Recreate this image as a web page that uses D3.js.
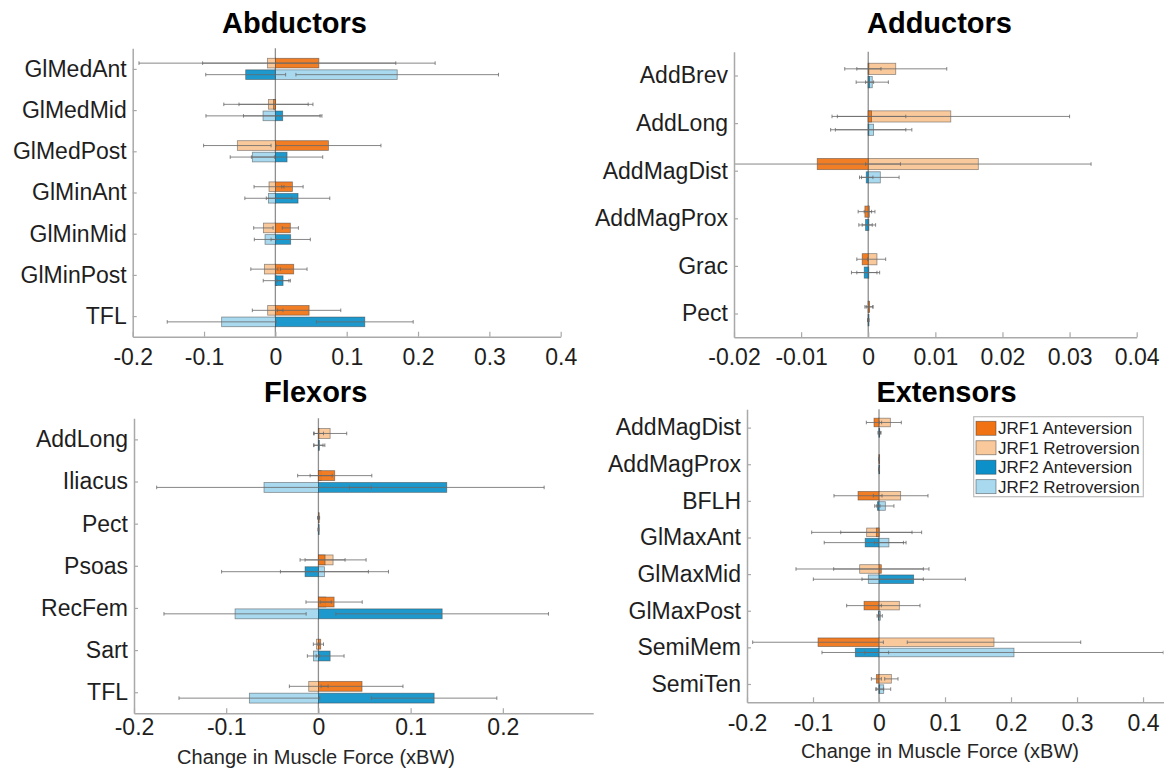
<!DOCTYPE html>
<html><head><meta charset="utf-8">
<script src="https://cdn.jsdelivr.net/npm/d3@7"></script>
<style>
html,body{margin:0;padding:0;background:#fff;}
svg{display:block;font-family:"Liberation Sans",Arial,Helvetica,sans-serif;}
</style></head><body>
<svg id="chart" width="1171" height="770"></svg>
<script>
// ---------------- DATA ([value, error half-width]) ----------------
const seriesNames = ["JRF1 Anteversion", "JRF1 Retroversion", "JRF2 Anteversion", "JRF2 Retroversion"];

const abdCategories = ["GlMedAnt", "GlMedMid", "GlMedPost", "GlMinAnt", "GlMinMid", "GlMinPost", "TFL"];
const abdJRF1Ante  = [[0.061,0.163],[-0.0025,0.0485],[0.0744,0.0736],[0.0239,0.015],[0.021,0.0113],[0.0257,0.0187],[0.0473,0.0444]];
const abdJRF1Retro = [[-0.0112,0.18],[-0.0098,0.0625],[-0.0533,0.0473],[-0.0089,0.021],[-0.0168,0.0136],[-0.0154,0.019],[-0.0108,0.0215]];
const abdJRF2Ante  = [[-0.0416,0.056],[0.0103,0.055],[0.0164,0.05],[0.0318,0.0445],[0.0215,0.0275],[0.0108,0.0082],[0.1254,0.0678]];
const abdJRF2Retro = [[0.1708,0.142],[-0.0173,0.08],[-0.0323,0.031],[-0.0098,0.033],[-0.0145,0.015],[0.002,0.019],[-0.0753,0.0763]];
const abdTicks = [-0.2, -0.1, 0, 0.1, 0.2, 0.3, 0.4];

const addCategories = ["AddBrev", "AddLong", "AddMagDist", "AddMagProx", "Grac", "Pect"];
const addJRF1Ante  = [[0.0001,0.0018],[0.0005,0.0051],[-0.0076,0.0124],[-0.0005,0.001],[-0.0009,0.0008],[0.0002,0.0005]];
const addJRF1Retro = [[0.0041,0.0076],[0.0123,0.0177],[0.0164,0.0168],[0.0002,0.0008],[0.0013,0.0013],[0.0001,0.0006]];
const addJRF2Ante  = [[0.0002,0.0006],[0.0,0.0056],[-0.0003,0.001],[-0.0004,0.001],[-0.0006,0.0019],[0.0,0.0001]];
const addJRF2Retro = [[0.0006,0.0024],[0.0008,0.0057],[0.0018,0.0028],[0.0001,0.001],[0.0,0.0017],[0.0,0.0001]];
const addTicks = [-0.02, -0.01, 0, 0.01, 0.02, 0.03, 0.04];

const flxCategories = ["AddLong", "Iliacus", "Pect", "Psoas", "RecFem", "Sart", "TFL"];
const flxJRF1Ante  = [[0.0005,0.005],[0.0177,0.0402],[0.0003,0.001],[0.0072,0.0217],[0.017,0.0305],[0.0025,0.003],[0.0473,0.0444]];
const flxJRF1Retro = [[0.0127,0.018],[0.003,0.012],[0.0001,0.0008],[0.0159,0.0358],[0.008,0.006],[-0.002,0.0035],[-0.0105,0.021]];
const flxJRF2Ante  = [[0.0,0.005],[0.1392,0.1056],[0.0,0.0003],[-0.0145,0.0905],[0.1342,0.1153],[0.0127,0.0151],[0.1255,0.068]];
const flxJRF2Retro = [[0.001,0.006],[-0.059,0.1164],[0.0,0.0003],[0.0065,0.0477],[-0.0904,0.0771],[-0.0054,0.0066],[-0.0749,0.0763]];
const flxTicks = [-0.2, -0.1, 0, 0.1, 0.2];

const extCategories = ["AddMagDist", "AddMagProx", "BFLH", "GlMaxAnt", "GlMaxMid", "GlMaxPost", "SemiMem", "SemiTen"];
const extJRF1Ante  = [[-0.0076,0.0116],[0.0,0.0003],[-0.0318,0.0364],[-0.004,0.054],[0.0035,0.0722],[-0.0227,0.0263],[-0.0924,0.099],[-0.004,0.0076]];
const extJRF1Retro = [[0.0172,0.0166],[0.0,0.0003],[0.0328,0.0414],[-0.0187,0.0833],[-0.0293,0.0965],[0.0308,0.0313],[0.1742,0.1314],[0.0187,0.0101]];
const extJRF2Ante  = [[0.001,0.002],[0.0,0.0003],[-0.0025,0.004],[-0.021,0.062],[0.0525,0.0783],[-0.001,0.002],[-0.0359,0.0505],[0.001,0.006]];
const extJRF2Retro = [[0.0005,0.002],[0.0,0.0003],[0.0096,0.013],[0.015,0.022],[-0.0162,0.0833],[0.002,0.003],[0.2045,0.2262],[0.0071,0.0106]];
const extTicks = [-0.2, -0.1, 0, 0.1, 0.2, 0.3, 0.4];

// ---------------- STYLE / LAYOUT ----------------
const seriesColors = ["#f07212", "#f9c99c", "#0b90c9", "#a9d9ef"];
const axisColor = "#a9a9a9";
const textColor = "#1e1e1e";
const xLabelText = "Change in Muscle Force (xBW)";

const panels = [
  {title:"Abductors", cats:abdCategories, s:[abdJRF1Ante,abdJRF1Retro,abdJRF2Ante,abdJRF2Retro], ticks:abdTicks,
   domain:[-0.2,0.4], left:132.7, right:560.7, top:48.3, bottom:336.7, tickPad:12, titleX:294.5, titleY:33},
  {title:"Adductors", cats:addCategories, s:[addJRF1Ante,addJRF1Retro,addJRF2Ante,addJRF2Retro], ticks:addTicks,
   domain:[-0.02,0.04], left:734, right:1136.7, top:51.7, bottom:337.3, tickPad:11.5, titleX:939.5, titleY:33},
  {title:"Flexors", cats:flxCategories, s:[flxJRF1Ante,flxJRF1Retro,flxJRF2Ante,flxJRF2Retro], ticks:flxTicks,
   domain:[-0.2,0.298], left:134, right:593.2, top:418.3, bottom:713.3, tickPad:5, titleX:315.7, titleY:401.7,
   xlabel:{x:316, y:764}},
  {title:"Extensors", cats:extCategories, s:[extJRF1Ante,extJRF1Retro,extJRF2Ante,extJRF2Retro], ticks:extTicks,
   domain:[-0.2,0.431], left:747, right:1163.5, top:409.3, bottom:702.3, tickPad:12, titleX:946.5, titleY:401.7,
   xlabel:{x:940, y:758}, legend:true}
];

const svg = d3.select("#chart");
const fmt = d => String(+(+d).toFixed(3));

panels.forEach((p, idx) => {
  const g = svg.append("g");
  const x = d3.scaleLinear().domain(p.domain).range([p.left, p.right]);
  const y = d3.scalePoint().domain(p.cats).range([p.top, p.bottom]).padding(0.5);
  const step = y.step();
  const off = 0.14 * step, bh = 0.235 * step;

  const clipId = "clip" + idx;
  svg.append("clipPath").attr("id", clipId).append("rect")
    .attr("x", p.left).attr("y", p.top - 5).attr("width", p.right - p.left).attr("height", p.bottom - p.top + 10);

  const plot = g.append("g").attr("clip-path", `url(#${clipId})`);

  // zero line
  plot.append("line").attr("x1", x(0)).attr("x2", x(0)).attr("y1", p.top).attr("y2", p.bottom)
    .attr("stroke", "#8f8f8f").attr("stroke-width", 1.3);

  const rows = [
    {ante:p.s[0], retro:p.s[1], dy:-off, ca:seriesColors[0], cr:seriesColors[1]},
    {ante:p.s[2], retro:p.s[3], dy: off, ca:seriesColors[2], cr:seriesColors[3]}
  ];

  rows.forEach(r => {
    const mk = arr => p.cats.map((c, i) => ({c, v:arr[i][0], e:arr[i][1]}));
    const drawBars = (arr, color, op) => {
      plot.append("g").selectAll("rect").data(mk(arr)).join("rect")
        .attr("x", d => Math.min(x(0), x(d.v)))
        .attr("width", d => Math.max(0.6, Math.abs(x(d.v) - x(0))))
        .attr("y", d => y(d.c) + r.dy - bh / 2)
        .attr("height", bh)
        .attr("fill", color).attr("fill-opacity", op)
        .attr("stroke", "rgba(60,60,60,0.55)").attr("stroke-width", 0.8);
    };
    drawBars(r.retro, r.cr, 1);
    drawBars(r.ante, r.ca, 0.92);

    const errs = mk(r.retro).concat(mk(r.ante));
    const eg = plot.append("g").attr("stroke", "rgba(105,105,105,0.8)").attr("stroke-width", 1).attr("fill", "none");
    eg.selectAll("line.eb").data(errs).join("line").attr("class", "eb")
      .attr("x1", d => x(d.v - d.e)).attr("x2", d => x(d.v + d.e))
      .attr("y1", d => y(d.c) + r.dy).attr("y2", d => y(d.c) + r.dy);
    eg.selectAll("line.capL").data(errs).join("line").attr("class", "capL")
      .attr("x1", d => x(d.v - d.e)).attr("x2", d => x(d.v - d.e))
      .attr("y1", d => y(d.c) + r.dy - 1.8).attr("y2", d => y(d.c) + r.dy + 1.8);
    eg.selectAll("line.capR").data(errs).join("line").attr("class", "capR")
      .attr("x1", d => x(d.v + d.e)).attr("x2", d => x(d.v + d.e))
      .attr("y1", d => y(d.c) + r.dy - 1.8).attr("y2", d => y(d.c) + r.dy + 1.8);
  });

  // axes
  const xa = g.append("g").attr("transform", `translate(0,${p.bottom})`)
    .call(d3.axisBottom(x).tickValues(p.ticks).tickSize(-5).tickSizeOuter(0).tickPadding(p.tickPad).tickFormat(fmt));
  const ya = g.append("g").attr("transform", `translate(${p.left},0)`)
    .call(d3.axisLeft(y).tickSize(-4).tickSizeOuter(0).tickPadding(6));
  [xa, ya].forEach(a => {
    a.attr("font-family", null).attr("font-size", null);
    a.select(".domain").attr("stroke", axisColor).attr("stroke-width", 1.5);
    a.selectAll(".tick line").attr("stroke", axisColor).attr("stroke-width", 1.2);
    a.selectAll(".tick text").attr("fill", textColor).style("font-size", "23px");
  });

  // title
  svg.append("text").attr("x", p.titleX).attr("y", p.titleY).attr("text-anchor", "middle")
    .style("font-size", "29px").style("font-weight", "bold").attr("fill", "#000").text(p.title);

  if (p.xlabel) {
    svg.append("text").attr("x", p.xlabel.x).attr("y", p.xlabel.y).attr("text-anchor", "middle")
      .style("font-size", "20px").attr("fill", "#262626").text(xLabelText);
  }

  if (p.legend) {
    const lg = svg.append("g");
    lg.append("rect").attr("x", 973.7).attr("y", 416.7).attr("width", 169.6).attr("height", 80)
      .attr("fill", "#fff").attr("stroke", "#bdbdbd").attr("stroke-width", 1.2);
    const it = lg.selectAll("g.item").data(seriesNames).join("g").attr("class", "item")
      .attr("transform", (d, i) => `translate(976,${428.3 + i * 19.45})`);
    it.append("rect").attr("x", 0).attr("y", -7).attr("width", 20).attr("height", 14)
      .attr("fill", (d, i) => seriesColors[i]).attr("stroke", "rgba(60,60,60,0.6)").attr("stroke-width", 0.8);
    it.append("text").attr("x", 22).attr("y", 0).attr("dy", "0.35em")
      .style("font-size", "17px").attr("fill", textColor).text(d => d);
  }
});
</script>
</body></html>
